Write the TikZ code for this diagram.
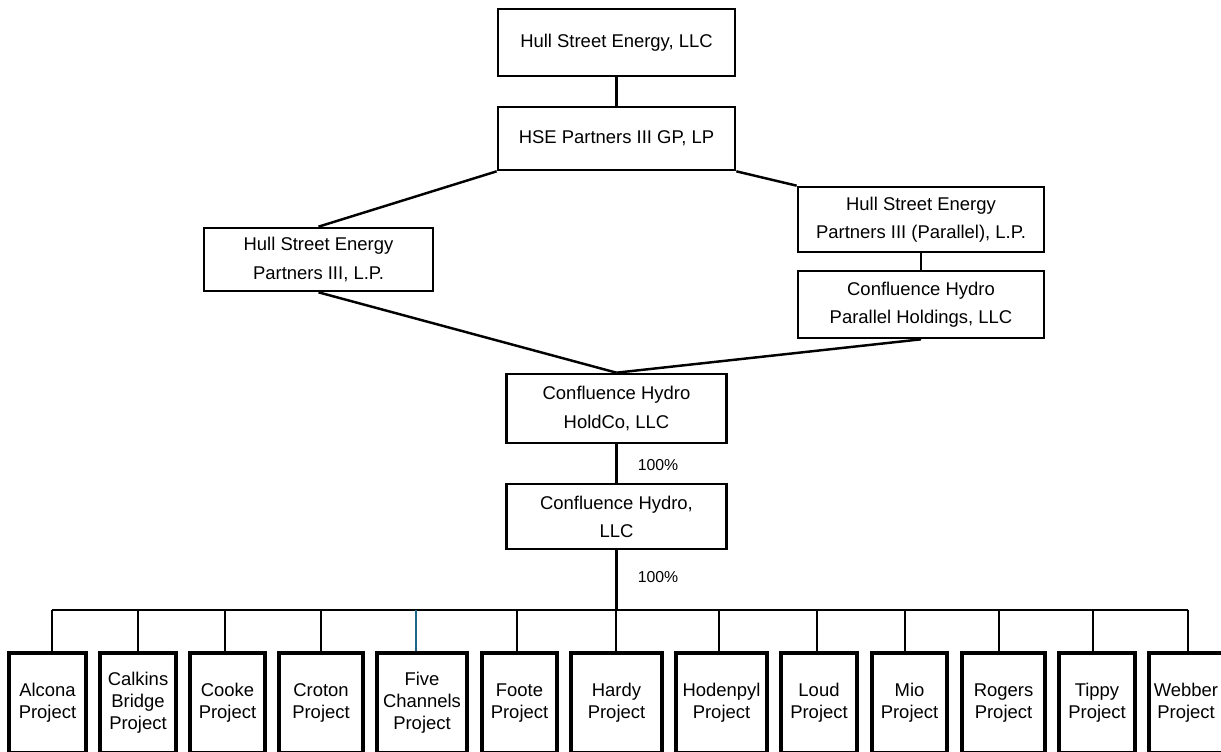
\documentclass[tikz,border=0pt]{standalone}
\usepackage{fontspec}
\setmainfont{Liberation Sans}
\definecolor{droplink}{RGB}{31,102,138}
\tikzset{
  entity/.style 2 args={draw, line width=1.5pt, minimum width=#1*0.02cm,
    minimum height=#2*0.02cm, inner sep=0pt, align=center,
    font=\fontsize{10.5}{16}\selectfont},
  project/.style={draw, line width=1.9pt, minimum height=100*0.02cm,
    inner sep=0pt, align=center, font=\fontsize{10.5}{12.5}\selectfont},
  link/.style={line width=1.4pt},
  pct/.style={font=\fontsize{9}{10}\selectfont}
}
\begin{document}
\begin{tikzpicture}[x=0.02cm,y=-0.02cm]
    \useasboundingbox (0,0) rectangle (1221,751);
    \clip (0,0) rectangle (1221,751);

    % owners
    \node[entity={237}{67}] (hse) at (616.5,42.5) {Hull Street Energy, LLC};
    \node[entity={237}{63}] (gp) at (616.5,138.5) {HSE Partners III GP, LP};
    \node[entity={229}{63}] (lp) at (318.5,259.5) {Hull Street Energy\\Partners III, L.P.};
    \node[entity={246}{65}] (par) at (921,219.5) {Hull Street Energy\\Partners III (Parallel), L.P.};
    \node[entity={246}{67}] (parhold) at (921,304.5) {Confluence Hydro\\Parallel Holdings, LLC};
    \node[entity={220}{69}] (hold) at (616.5,408.5) {Confluence Hydro\\HoldCo, LLC};
    \node[entity={220}{65}] (ch) at (616.5,516.5) {Confluence Hydro,\\LLC};

    \draw[link] (hse) -- (gp);
    \draw[link] (gp.south west) -- (lp.north);
    \draw[link] (gp.south east) -- (par.north west);
    \draw[link] (par) -- (parhold);
    \draw[link] (lp.south) -- (hold.north);
    \draw[link] (parhold.south) -- (hold.north);
    \draw[link] (hold) -- (ch);
    \node[pct] (pcthold) at (658,465) {100\%};

    % projects
    \coordinate (busl) at (52,610);
    \coordinate (busr) at (1188,610);
    \draw[link] (ch.south) -- (ch.south |- busl);
    \node[pct] (pctch) at (658,577) {100\%};
    \draw[link] (busl) -- (busr);
    \foreach \name/\l/\r/\d/\col/\txt in {
      alcona/9/86/52/black/{Alcona\\Project},
      calkins/100/176/138/black/{Calkins\\Bridge\\Project},
      cooke/190/265/225/black/{Cooke\\Project},
      croton/279/363/321/black/{Croton\\Project},
      five/377/467/416/droplink/{Five\\Channels\\Project},
      foote/482/557/517/black/{Foote\\Project},
      hardy/571/662/616/black/{Hardy\\Project},
      hodenpyl/676/767/719/black/{Hodenpyl\\Project},
      loud/781/857/817/black/{Loud\\Project},
      mio/872/947/905/black/{Mio\\Project},
      rogers/962/1045/999/black/{Rogers\\Project},
      tippy/1059/1135/1093/black/{Tippy\\Project},
      webber/1149/1223/1188/black/{Webber\\Project}}
    {
      \node[project, minimum width={(\r-\l)*0.02cm}] (\name) at ({(\l+\r)/2},703) {\txt};
      \coordinate (d\name) at (\d,610);
      \draw[link, \col] (d\name) -- (d\name |- \name.north);
    }
\end{tikzpicture}
\end{document}
